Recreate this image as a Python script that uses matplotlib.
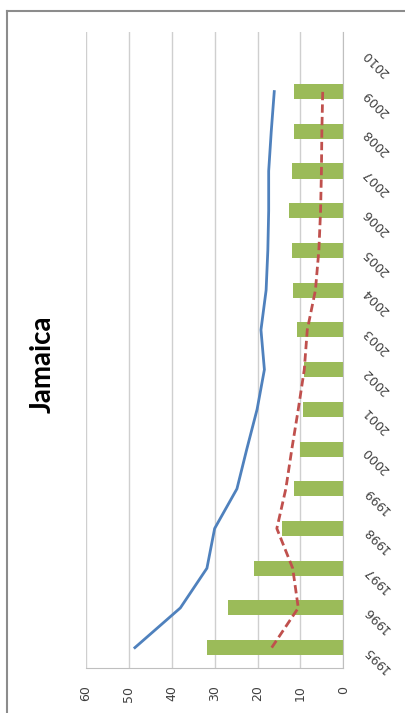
import matplotlib
matplotlib.use("Agg")
import matplotlib.pyplot as plt
from matplotlib.lines import Line2D

# Jamaica series, one value per year
years = [1995, 1996, 1997, 1998, 1999, 2000, 2001, 2002,
         2003, 2004, 2005, 2006, 2007, 2008, 2009]
axis_years = years + [2010]
bar_vals = [31.8, 26.9, 20.8, 14.3, 11.4, 10.1, 9.3, 9.1,
            10.7, 11.8, 11.9, 12.6, 12.0, 11.4, 11.4]
blue_vals = [48.6, 38.0, 31.8, 30.0, 24.8, 22.5, 20.1, 18.4,
             19.2, 18.0, 17.6, 17.4, 17.4, 16.8, 16.1]
red_vals = [16.7, 10.5, 11.8, 15.5, 13.4, 12.0, 10.5, 9.1,
            8.4, 6.5, 5.7, 5.3, 5.1, 5.0, 4.8]
value_ticks = [0, 10, 20, 30, 40, 50, 60]

fig = plt.figure(figsize=(4.06, 7.13), dpi=100)
ax = fig.add_axes([86 / 406, 1 - 667.5 / 713, (343.3 - 86) / 406, (667.5 - 32) / 713])

ax.barh(years, bar_vals, height=0.38, color="#9BBB59", zorder=2)
ax.plot(blue_vals, years, color="#4F81BD", lw=2, zorder=3)
ax.plot(red_vals, years, color="#C0504D", lw=2, linestyle=(0, (3, 1.5)), zorder=3)

ax.set_xlim(60, 0)
ax.set_ylim(1994.5, 2010.5)
ax.set_xticks(value_ticks)
ax.set_xticklabels([str(v) for v in value_ticks], rotation=90, fontsize=9,
                   color="#404040")
ax.set_yticks(axis_years)
ax.yaxis.tick_right()
ax.set_yticklabels([str(y) for y in axis_years], fontsize=9, color="#404040")
for lab in ax.get_yticklabels():
    lab.set_rotation(135)
    lab.set_rotation_mode("anchor")
    lab.set_ha("right")
    lab.set_va("center")

ax.tick_params(axis="x", length=0, pad=13)
ax.tick_params(axis="y", length=0, pad=16)
ax.grid(axis="x", color="#CFCFCF", lw=1, zorder=0)
for side in ["top", "left"]:
    ax.spines[side].set_visible(False)
for side in ["bottom", "right"]:
    ax.spines[side].set_color("#BFBFBF")

fig.text(43 / 406, 1 - 364 / 713, "Jamaica", rotation=90, fontsize=20,
         fontweight="bold", family="Lato", ha="center", va="center")

# frame edges along the top and left
fig.add_artist(Line2D([7 / 406, 1], [1 - 10.5 / 713] * 2, color="#8C8C8C", lw=1.5))
fig.add_artist(Line2D([7 / 406] * 2, [0, 1 - 10.5 / 713], color="#8C8C8C", lw=1.5))

fig.savefig("out.png", dpi=100, facecolor="white")
